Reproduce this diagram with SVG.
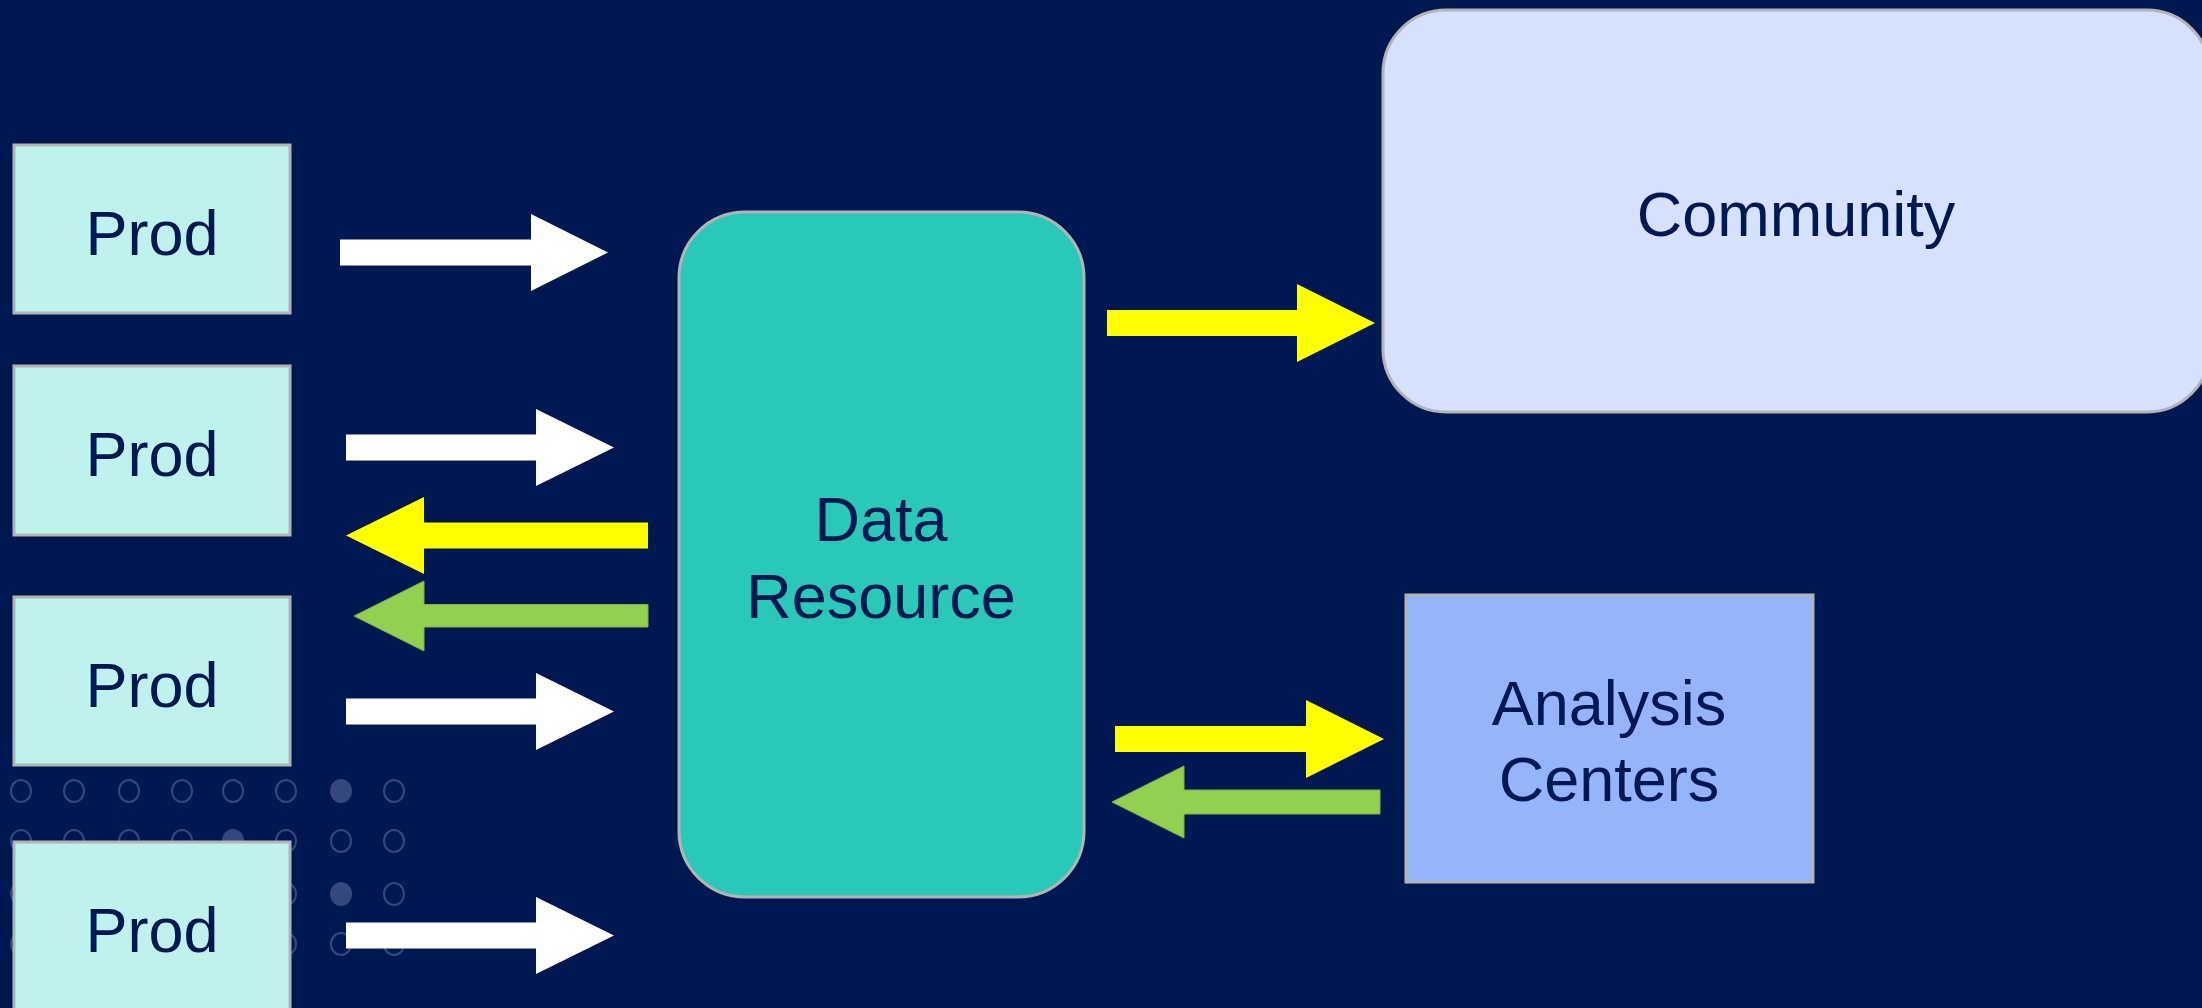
<svg xmlns="http://www.w3.org/2000/svg" width="2202" height="1008" viewBox="0 0 2202 1008">
  <style>
    .label { font-family: "Liberation Sans", Arial, sans-serif; font-size: 63px; fill: #001852; text-anchor: middle; }
    .box { stroke: #b4b4b4; stroke-width: 3; }
    .prod { fill: #bdf3ec; }
    .dot { fill: none; stroke: #34487e; stroke-width: 2; }
    .dot-on { fill: #34487e; stroke: none; }
    .white { fill: #ffffff; }
    .yellow { fill: #ffff00; }
    .green { fill: #92d050; stroke: #7fb447; stroke-width: 1; }
  </style>

  <!-- background -->
  <rect x="0" y="0" width="2202" height="1008" fill="#001852"/>

  <!-- decorative dot grid, lower left -->
  <g id="dot-grid">
    <ellipse class="dot" cx="21" cy="791" rx="10" ry="11"/>
    <ellipse class="dot" cx="74" cy="791" rx="10" ry="11"/>
    <ellipse class="dot" cx="129" cy="791" rx="10" ry="11"/>
    <ellipse class="dot" cx="182" cy="791" rx="10" ry="11"/>
    <ellipse class="dot" cx="233" cy="791" rx="10" ry="11"/>
    <ellipse class="dot" cx="286" cy="791" rx="10" ry="11"/>
    <ellipse class="dot-on" cx="341" cy="791" rx="11" ry="12"/>
    <ellipse class="dot" cx="394" cy="791" rx="10" ry="11"/>

    <ellipse class="dot" cx="21" cy="841" rx="10" ry="11"/>
    <ellipse class="dot" cx="74" cy="841" rx="10" ry="11"/>
    <ellipse class="dot" cx="129" cy="841" rx="10" ry="11"/>
    <ellipse class="dot" cx="182" cy="841" rx="10" ry="11"/>
    <ellipse class="dot-on" cx="233" cy="841" rx="11" ry="12"/>
    <ellipse class="dot" cx="286" cy="841" rx="10" ry="11"/>
    <ellipse class="dot" cx="341" cy="841" rx="10" ry="11"/>
    <ellipse class="dot" cx="394" cy="841" rx="10" ry="11"/>

    <ellipse class="dot" cx="21" cy="894" rx="10" ry="11"/>
    <ellipse class="dot" cx="286" cy="894" rx="10" ry="11"/>
    <ellipse class="dot-on" cx="341" cy="894" rx="11" ry="12"/>
    <ellipse class="dot" cx="394" cy="894" rx="10" ry="11"/>

    <ellipse class="dot" cx="21" cy="944" rx="10" ry="11"/>
    <ellipse class="dot" cx="286" cy="944" rx="10" ry="11"/>
    <ellipse class="dot" cx="341" cy="944" rx="10" ry="11"/>
    <ellipse class="dot" cx="394" cy="944" rx="10" ry="11"/>
  </g>

  <!-- producers -->
  <g id="prod-1">
    <rect class="box prod" x="14" y="145" width="276" height="168"/>
    <text class="label" x="152" y="255">Prod</text>
  </g>
  <g id="prod-2">
    <rect class="box prod" x="14" y="366" width="276" height="169"/>
    <text class="label" x="152" y="476">Prod</text>
  </g>
  <g id="prod-3">
    <rect class="box prod" x="14" y="597" width="276" height="168"/>
    <text class="label" x="152" y="707">Prod</text>
  </g>
  <g id="prod-4">
    <rect class="box prod" x="14" y="842" width="276" height="170"/>
    <text class="label" x="152" y="952">Prod</text>
  </g>

  <!-- central resource -->
  <g id="data-resource">
    <rect class="box" x="679" y="212" width="405" height="685" rx="66" ry="66" fill="#29c8b8"/>
    <text class="label" x="881" y="541">Data</text>
    <text class="label" x="881" y="618">Resource</text>
  </g>

  <!-- consumers -->
  <g id="community">
    <rect class="box" x="1383" y="10" width="827" height="402" rx="63" ry="63" fill="#d6e1fe"/>
    <text class="label" x="1796" y="236">Community</text>
  </g>
  <g id="analysis-centers">
    <rect class="box" x="1406" y="595" width="407" height="287" fill="#94b4fc"/>
    <text class="label" x="1609" y="725">Analysis</text>
    <text class="label" x="1609" y="801">Centers</text>
  </g>

  <!-- block arrows -->
  <g id="connectors">
    <!-- producers to data resource -->
    <polygon class="white" points="340,239.5 531,239.5 531,214 608,252.5 531,291 531,265.5 340,265.5"/>
    <polygon class="white" points="346,434.5 536,434.5 536,409 614,447.5 536,486 536,460.5 346,460.5"/>
    <polygon class="white" points="346,698.5 536,698.5 536,673 614,711.5 536,750 536,724.5 346,724.5"/>
    <polygon class="white" points="346,922.5 536,922.5 536,897 614,935.5 536,974 536,948.5 346,948.5"/>

    <!-- data resource back to producers -->
    <polygon class="yellow" points="648,522.5 424,522.5 424,497 346,535.5 424,574 424,548.5 648,548.5"/>
    <polygon class="green" points="648,604.5 424,604.5 424,581 354,616 424,651 424,627 648,627"/>

    <!-- data resource to community -->
    <polygon class="yellow" points="1107,310 1297,310 1297,284 1375,323 1297,362 1297,336 1107,336"/>

    <!-- data resource and analysis centers -->
    <polygon class="yellow" points="1115,726 1306,726 1306,700 1384,739 1306,778 1306,752 1115,752"/>
    <polygon class="green" points="1380,790 1184,790 1184,766 1112,802 1184,838 1184,814 1380,814"/>
  </g>
</svg>
